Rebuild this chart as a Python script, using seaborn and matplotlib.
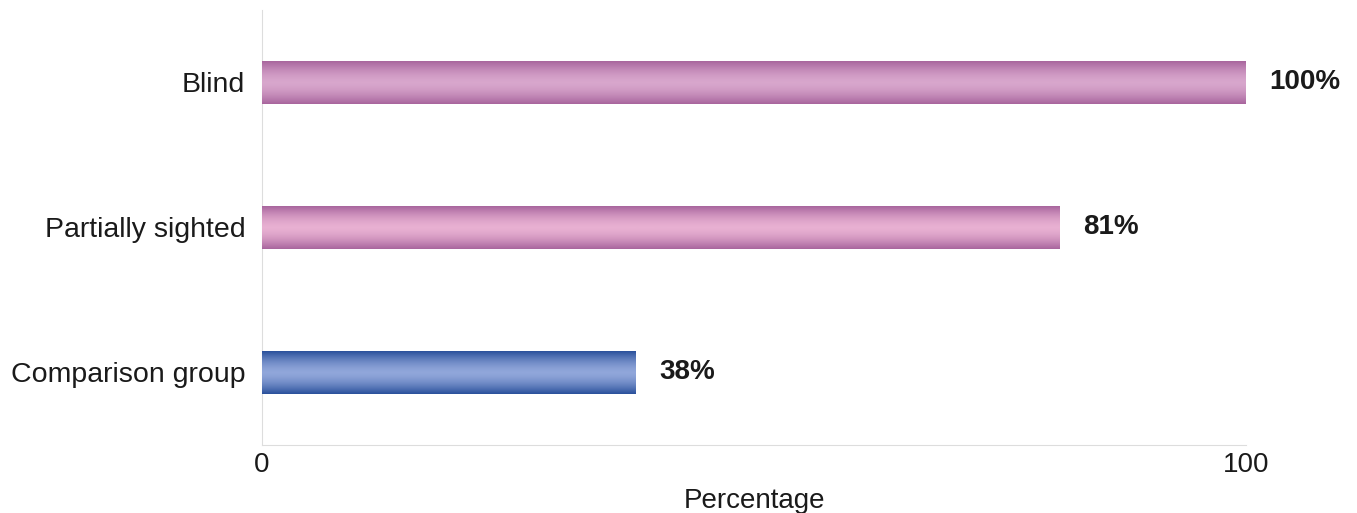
import numpy as np
import pandas as pd
import matplotlib
matplotlib.use("Agg")
import matplotlib.pyplot as plt
import seaborn as sns
from matplotlib.colors import LinearSegmentedColormap

groups = ["Blind", "Partially sighted", "Comparison group"]
values = [100, 81, 38]
labels = ["100%", "81%", "38%"]
edge_cols = ["#a9669e", "#a9669e", "#2b519c"]
mid_cols = ["#d8a6cc", "#e8b0d2", "#90a6da"]

sns.set_style("white")
plt.rcParams["font.family"] = ["Liberation Sans", "DejaVu Sans"]

df = pd.DataFrame({"group": groups, "value": values})

fig = plt.figure(figsize=(13.57, 5.13), dpi=100)
ax = fig.add_axes([0.1931, 0.1326, 0.7251, 0.8479])

sns.barplot(data=df, x="value", y="group", orient="h", width=0.29,
            color="#c080b0", ax=ax, linewidth=0)

ax.set_xlim(0, 100)
ax.set_ylim(2.5, -0.5)

# cylinder-like shading on each bar
for bar, ec, mc in zip(ax.patches, edge_cols, mid_cols):
    x0, y0 = bar.get_x(), bar.get_y()
    w, h = bar.get_width(), bar.get_height()
    cmap = LinearSegmentedColormap.from_list("g", [ec, mc])
    grad = np.abs(np.linspace(-1, 1, 64)).reshape(-1, 1)
    grad = 1 - grad ** 1.6
    img = ax.imshow(grad, cmap=cmap, vmin=0, vmax=1, aspect="auto",
                    extent=[x0, x0 + w, y0 + h, y0], zorder=3)
    img.set_clip_path(bar)
    bar.set_facecolor("none")

for i, (v, lab) in enumerate(zip(values, labels)):
    ax.text(v + 2.4, i, lab, va="center", ha="left", fontsize=20,
            fontweight="bold", color="#1a1a1a")

for s in ["top", "right"]:
    ax.spines[s].set_visible(False)
ax.spines["left"].set_color("#dddddd")
ax.spines["bottom"].set_color("#dddddd")

ax.set_xticks([0, 100])
ax.set_xticks([20, 40, 60, 80], minor=True)
ax.tick_params(axis="x", which="major", length=0, labelsize=20, pad=5,
               colors="#1a1a1a")
ax.tick_params(axis="x", which="minor", length=3, color="#e0e0e0", direction="in")
ax.tick_params(axis="y", length=0, labelsize=20.5, pad=12, colors="#1a1a1a")
ax.set_xlabel("Percentage", fontsize=20, color="#1a1a1a", labelpad=7)
ax.set_ylabel("")

fig.savefig("out.png", dpi=100)
